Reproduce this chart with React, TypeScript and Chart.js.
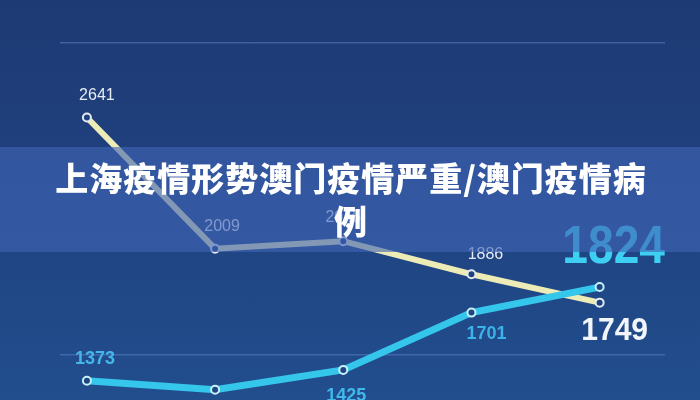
import React, { useEffect, useRef } from "react";
import { Chart, registerables } from "chart.js";

Chart.register(...registerables);

const categories = ["P1", "P2", "P3", "P4", "P5"];
const seriesYellow = [2641, 2009, 2045, 1886, 1749];
const seriesBlue = [1373, 1329, 1425, 1701, 1824];
const labelsYellow = ["2641", "2009", "2045", "1886", "1749"];
const labelsBlue = ["1373", "1329", "1425", "1701", "1824"];
const gridTicks = [1500, 3000];
const titleText = "上海疫情形势澳门疫情严重/澳门疫情病例";

type LabelStyle = { dx: number; dy: number; font: string; color: string; sx?: number };

const yellowLabelStyles: LabelStyle[] = [
  { dx: 10, dy: -22, font: "500 16px 'Liberation Sans', Arial, sans-serif", color: "#e6ecf4" },
  { dx: 7, dy: -22, font: "500 16px 'Liberation Sans', Arial, sans-serif", color: "#e6ecf4" },
  { dx: 0, dy: -24, font: "500 16px 'Liberation Sans', Arial, sans-serif", color: "#e6ecf4" },
  { dx: 14, dy: -20, font: "500 16px 'Liberation Sans', Arial, sans-serif", color: "#e6ecf4" },
  { dx: 15, dy: 29, font: "bold 32px 'Liberation Sans', Arial, sans-serif", color: "#f2f6fb", sx: 0.94 },
];
const blueLabelStyles: LabelStyle[] = [
  { dx: 8, dy: -22, font: "bold 18px 'Liberation Sans', Arial, sans-serif", color: "#44b6ea" },
  { dx: 0, dy: 26, font: "bold 18px 'Liberation Sans', Arial, sans-serif", color: "#44b6ea" },
  { dx: 3, dy: 26, font: "bold 18px 'Liberation Sans', Arial, sans-serif", color: "#40b8ec" },
  { dx: 15, dy: 21, font: "bold 18px 'Liberation Sans', Arial, sans-serif", color: "#3cb2ea" },
  { dx: 14, dy: -39, font: "bold 53px 'Liberation Sans', Arial, sans-serif", color: "#3dd0f3", sx: 0.87 },
];

export default function App() {
  const canvasRef = useRef<HTMLCanvasElement | null>(null);

  useEffect(() => {
    const canvas = canvasRef.current;
    if (!canvas) return;

    const labelPlugin = {
      id: "pointLabels",
      afterDatasetsDraw(chart: any) {
        const ctx = chart.ctx as CanvasRenderingContext2D;
        const sets = [
          { meta: chart.getDatasetMeta(0), labels: labelsBlue, styles: blueLabelStyles },
          { meta: chart.getDatasetMeta(1), labels: labelsYellow, styles: yellowLabelStyles },
        ];
        sets.forEach((s) => {
          s.meta.data.forEach((el: any, i: number) => {
            const st = s.styles[i];
            ctx.save();
            ctx.font = st.font;
            ctx.fillStyle = st.color;
            ctx.textAlign = "center";
            ctx.textBaseline = "middle";
            ctx.translate(el.x + st.dx, el.y + st.dy);
            if (st.sx) ctx.scale(st.sx, 1);
            ctx.fillText(s.labels[i], 0, 0);
            ctx.restore();
          });
        });
      },
    };

    const chart = new Chart(canvas, {
      type: "line",
      data: {
        labels: categories,
        datasets: [
          {
            label: "blue",
            data: seriesBlue.map((v, i) => ({ x: i, y: v })),
            borderColor: "#35c6ec",
            borderWidth: 7,
            pointRadius: 4,
            pointBorderWidth: 2,
            pointBackgroundColor: "#1f4682",
            pointBorderColor: "#c6f0fb",
            tension: 0,
          },
          {
            label: "yellow",
            data: seriesYellow.map((v, i) => ({ x: i, y: v })),
            borderColor: "#eeecb6",
            borderWidth: 6,
            pointRadius: 4,
            pointBorderWidth: 2,
            pointBackgroundColor: "#1f4280",
            pointBorderColor: "#e4eaf2",
            tension: 0,
          },
        ],
      },
      options: {
        responsive: false,
        animation: false,
        events: [],
        layout: { autoPadding: false, padding: { left: 60, right: 35, top: 43, bottom: 0 } },
        plugins: {
          legend: { display: false },
          tooltip: { enabled: false },
          title: { display: false },
        },
        scales: {
          x: {
            type: "linear",
            min: -0.21,
            max: 4.51,
            display: false,
          },
          y: {
            min: 1280,
            max: 3000,
            afterBuildTicks: (axis: any) => {
              axis.ticks = gridTicks.map((v) => ({ value: v }));
            },
            ticks: { display: false },
            border: { display: false },
            grid: {
              color: "rgba(88,128,196,0.55)",
              lineWidth: 1.5,
              drawTicks: false,
            },
          },
        },
      },
      plugins: [labelPlugin],
    });

    return () => chart.destroy();
  }, []);

  return (
    <div
      style={{
        position: "fixed",
        top: 0,
        left: 0,
        width: 700,
        height: 400,
        overflow: "hidden",
        background: "linear-gradient(180deg, #1e3a74 0%, #1f4280 50%, #224e8e 100%)",
      }}
    >
      <canvas ref={canvasRef} width={700} height={400} style={{ position: "absolute", left: 0, top: 0 }} />
      <div
        style={{
          position: "absolute",
          left: 0,
          top: 147,
          width: 700,
          height: 105,
          background: "rgba(64,100,180,0.62)",
        }}
      >
        <div
          style={{
            position: "absolute",
            left: 51,
            top: 9,
            width: 600,
            textAlign: "center",
            color: "#ffffff",
            fontFamily: "'Noto Sans CJK SC', sans-serif",
            fontWeight: 900,
            fontSize: 33,
            lineHeight: "43px",
            letterSpacing: 1,
          }}
        >
          {titleText}
        </div>
      </div>
    </div>
  );
}
